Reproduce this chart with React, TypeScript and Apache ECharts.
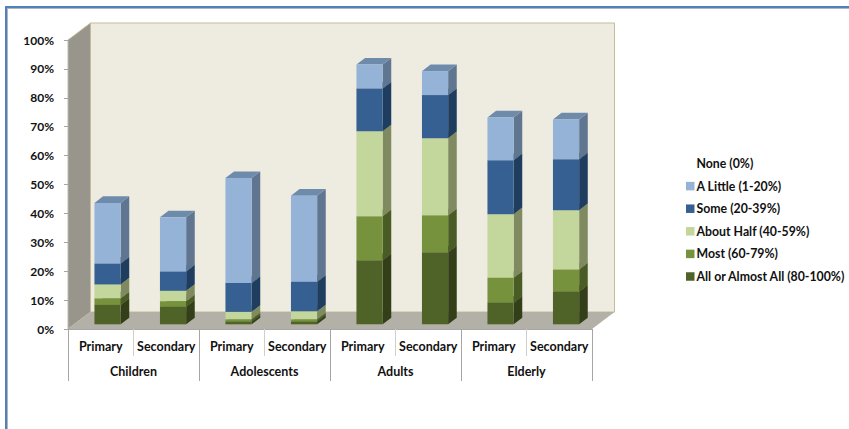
import React, { useEffect, useRef } from "react";
import * as echarts from "echarts";

const levels = ["Primary", "Secondary", "Primary", "Secondary", "Primary", "Secondary", "Primary", "Secondary"];
const groups = ["Children", "Adolescents", "Adults", "Elderly"];

// Share of respondents per answer, bottom of the stack first.
const allOrAlmostAll = [6.7, 6.1, 0.9, 0.9, 22.2, 24.9, 7.5, 11.3];
const most = [2.3, 1.9, 0.8, 0.8, 15.2, 12.8, 8.6, 7.7];
const aboutHalf = [4.8, 3.6, 2.6, 2.8, 29.4, 26.7, 22.0, 20.5];
const some = [7.2, 6.7, 10.0, 10.2, 14.8, 14.9, 18.7, 17.6];
const aLittle = [21.0, 18.7, 36.3, 29.8, 8.3, 8.3, 14.8, 13.8];
const none = [58.0, 62.9, 49.4, 55.5, 10.1, 12.4, 28.4, 29.1];

const stackSeries = [
  { name: "All or Almost All (80-100%)", values: allOrAlmostAll, front: "#4f6228", side: "#333f18", top: "#3f4e20" },
  { name: "Most (60-79%)", values: most, front: "#76923c", side: "#4a5c25", top: "#5e7530" },
  { name: "About Half (40-59%)", values: aboutHalf, front: "#c3d69b", side: "#7f8a60", top: "#9cab7c" },
  { name: "Some (20-39%)", values: some, front: "#366092", side: "#1f3d5f", top: "#2b4d75" },
  { name: "A Little (1-20%)", values: aLittle, front: "#95b3d7", side: "#5f7590", top: "#6f8bab" },
  { name: "None (0%)", values: none, front: "transparent", side: "transparent", top: "transparent" },
];

const legendOrder = [
  "None (0%)",
  "A Little (1-20%)",
  "Some (20-39%)",
  "About Half (40-59%)",
  "Most (60-79%)",
  "All or Almost All (80-100%)",
];

const percentTicks = (v: number) => `${v}%`;
const FONT = "Lato";

// Front-face offset from the axis plane, and the extrusion of each column.
const SHIFT_X = 6.8;
const SHIFT_Y = -4.7;
const DEPTH_X = 8.6;
const DEPTH_Y = -6.6;

const cumulativeBefore = (seriesIdx: number, cat: number) =>
  stackSeries.slice(0, seriesIdx).reduce((sum, s) => sum + s.values[cat], 0);

function makeOption() {
  const series = stackSeries.map((s, idx) => ({
    type: "custom",
    name: s.name,
    xAxisIndex: 0,
    yAxisIndex: 0,
    itemStyle: { color: s.front === "transparent" ? "#ffffff" : s.front },
    data: s.values.map((v, cat) => [cat, cumulativeBefore(idx, cat), cumulativeBefore(idx, cat) + v]),
    encode: { x: 0, y: [1, 2] },
    silent: true,
    renderItem: (_p: any, api: any) => {
      if (s.front === "transparent") return { type: "group", children: [] };
      const cat = api.value(0);
      const lo = api.coord([cat, api.value(1)]);
      const hi = api.coord([cat, api.value(2)]);
      const w = api.size([1, 0])[0] * 0.4;
      const x0 = lo[0] + SHIFT_X - w / 2;
      const x1 = x0 + w;
      const yLo = lo[1] + SHIFT_Y;
      const yHi = hi[1] + SHIFT_Y;
      return {
        type: "group",
        children: [
          {
            type: "polygon",
            shape: { points: [[x1, yLo], [x1 + DEPTH_X, yLo + DEPTH_Y], [x1 + DEPTH_X, yHi + DEPTH_Y], [x1, yHi]] },
            style: { fill: s.side },
          },
          {
            type: "polygon",
            shape: { points: [[x0, yHi], [x0 + DEPTH_X, yHi + DEPTH_Y], [x1 + DEPTH_X, yHi + DEPTH_Y], [x1, yHi]] },
            style: { fill: s.top },
          },
          {
            type: "rect",
            shape: { x: x0, y: yHi, width: w, height: yLo - yHi },
            style: { fill: s.front },
          },
        ],
      };
    },
  }));

  const label = { fontFamily: FONT, fontWeight: "bold", fontSize: 12.5, color: "#111111" };

  return {
    animation: false,
    backgroundColor: "#ffffff",
    grid: { left: 68, right: 257, top: 40, bottom: 100, containLabel: false },
    legend: {
      orient: "vertical",
      left: 681,
      top: 152.5,
      itemWidth: 8.5,
      itemHeight: 8.5,
      itemGap: 10.6,
      selectedMode: false,
      icon: "rect",
      data: legendOrder,
      textStyle: { ...label, fontSize: 12.3, padding: [0, 0, 0, -3] },
    },
    xAxis: [
      {
        type: "category",
        data: levels,
        position: "bottom",
        axisLine: { show: true, lineStyle: { color: "#a6a6a6", width: 1 } },
        axisTick: { show: true, length: 27, lineStyle: { color: "#cfcfcf", width: 1 } },
        axisLabel: { ...label, margin: 11, interval: 0 },
      },
      {
        type: "category",
        data: groups,
        position: "bottom",
        axisLine: { show: false },
        axisTick: { show: true, length: 52, lineStyle: { color: "#a6a6a6", width: 1 } },
        axisLabel: { ...label, margin: 36, interval: 0 },
      },
    ],
    yAxis: {
      type: "value",
      min: 0,
      max: 100,
      interval: 10,
      axisLine: { show: true, lineStyle: { color: "#a6a6a6", width: 1 } },
      axisTick: { show: true, length: 4, lineStyle: { color: "#a6a6a6" } },
      splitLine: { show: false },
      axisLabel: { ...label, fontSize: 12, margin: 14, formatter: percentTicks },
    },
    graphic: [
      // Sheet frame
      { type: "rect", z: 0, shape: { x: 5, y: 6, width: 844, height: 2 }, style: { fill: "#4f81bd" } },
      { type: "rect", z: 0, shape: { x: 5, y: 6, width: 2, height: 423 }, style: { fill: "#4f81bd" } },
      { type: "rect", z: 0, shape: { x: 7, y: 8, width: 842, height: 1 }, style: { fill: "#b4b4b4" } },
      { type: "rect", z: 0, shape: { x: 7, y: 8, width: 1, height: 421 }, style: { fill: "#b4b4b4" } },
      // Plot box: back wall, side wall and floor
      {
        type: "rect",
        z: 0,
        shape: { x: 90.5, y: 23, width: 524, height: 289 },
        style: { fill: "#eeece1", stroke: "#c4bd97", lineWidth: 1 },
      },
      {
        type: "polygon",
        z: 0,
        shape: { points: [[68, 40], [90.5, 23], [90.5, 312], [68, 329]] },
        style: { fill: "#98958c", stroke: "#c4bd97", lineWidth: 1 },
      },
      {
        type: "polygon",
        z: 0,
        shape: { points: [[68, 329], [90.5, 312], [614.5, 312], [592, 329]] },
        style: { fill: "#b3b0a8" },
      },
    ],
    series,
  };
}

export default function App() {
  const ref = useRef<HTMLDivElement>(null);
  useEffect(() => {
    const chart = echarts.init(ref.current!, undefined, { renderer: "svg" });
    chart.setOption(makeOption() as any);
    return () => chart.dispose();
  }, []);
  return <div ref={ref} style={{ position: "fixed", left: 0, top: 0, width: 849, height: 429 }} />;
}
